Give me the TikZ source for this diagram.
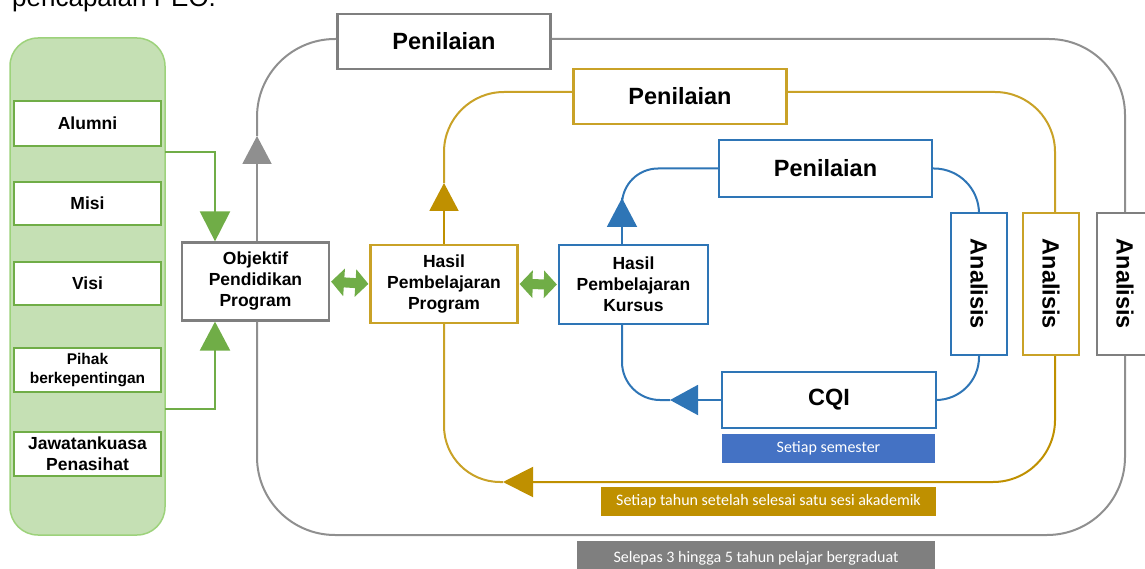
\documentclass[tikz,border=0pt]{standalone}
\usepackage{fontspec}
\setmainfont{Liberation Sans}
\newfontfamily\labfont{Carlito}
\usetikzlibrary{arrows.meta}
\definecolor{grn}{HTML}{70AD47}
\definecolor{pnl}{HTML}{C5E0B4}
\definecolor{pnlb}{HTML}{9DD27B}
\definecolor{gry}{HTML}{8F8F8F}
\definecolor{gryd}{HTML}{7F7F7F}
\definecolor{gold}{HTML}{C9A227}
\definecolor{goldd}{HTML}{BF9000}
\definecolor{blu}{HTML}{2E75B6}
\definecolor{blul}{HTML}{4472C4}
\begin{document}
\begin{tikzpicture}[x=1pt,y=-1pt,
  box/.style={draw, line width=2.2pt, fill=white, inner sep=0pt, align=center,
    font=\bfseries\fontsize{17.5}{21}\selectfont},
  gbox/.style={box, draw=grn, minimum width=147pt},
  bigtxt/.style={font=\bfseries\fontsize{23.5}{26}\selectfont},
  anabox/.style={box, bigtxt, minimum width=56pt, minimum height=142pt},
  lab/.style={inner sep=0pt, text=white, font=\labfont\fontsize{16}{19}\selectfont},
  gline/.style={draw=gry, line width=2pt},
  yline/.style={draw=gold, line width=2pt},
  bline/.style={draw=blu, line width=2pt},
  grline/.style={draw=grn, line width=2.2pt},
  dbl/.style={draw=grn, line width=10pt,
    {Triangle[length=13pt,width=27pt]}-{Triangle[length=13pt,width=27pt]},
    shorten <=1pt, shorten >=1pt}
]
\useasboundingbox (0,0) rectangle (1145,569);

% heading text, cut by the top edge as in the reference
\node[anchor=base west, inner sep=0pt, font=\fontsize{26}{30}\selectfont] (topt) at (12,7) {pencapaian PEO.};

% left panel
\node[draw=pnlb, fill=pnl, line width=1.5pt, rounded corners=28pt,
      minimum width=155pt, minimum height=497pt] (panel) at (87.5,286.5) {};
\node[gbox, minimum height=45pt] (alumni) at (87.5,123.5) {Alumni};
\node[gbox, minimum height=43pt] (misi) at (87.5,203.5) {Misi};
\node[gbox, minimum height=43pt] (visi) at (87.5,283.5) {Visi};
\node[gbox, minimum height=44pt, font=\bfseries\fontsize{15.5}{19}\selectfont] (pihak) at (87.5,370) {Pihak\\berkepentingan};
\node[gbox, minimum height=44pt] (jawatan) at (87.5,454) {Jawatankuasa\\Penasihat};

% main boxes
\node[box, draw=gryd, minimum width=147pt, minimum height=78pt] (obj) at (255.5,281.5) {Objektif\\Pendidikan\\Program};
\node[box, draw=gold, minimum width=147pt, minimum height=78pt] (hpp) at (444,284) {Hasil\\Pembelajaran\\Program};
\node[box, draw=blu, minimum width=149pt, minimum height=79pt] (hpk) at (633.5,284.5) {Hasil\\Pembelajaran\\Kursus};

\node[box, bigtxt, draw=gryd, minimum width=213pt, minimum height=55pt] (penG) at (444,41.5) {Penilaian};
\node[box, bigtxt, draw=gold, minimum width=213pt, minimum height=55pt] (penY) at (680,96.5) {Penilaian};
\node[box, bigtxt, draw=blu, minimum width=213pt, minimum height=57pt] (penB) at (825.5,168.5) {Penilaian};

\node[anabox, draw=blu] (anaB) at (979,284) {\rotatebox{-90}{Analisis}};
\node[anabox, draw=gold] (anaY) at (1051,284) {\rotatebox{-90}{Analisis}};
\node[anabox, draw=gryd] (anaG) at (1125,284) {\rotatebox{-90}{Analisis}};

\node[box, bigtxt, draw=blu, minimum width=214pt, minimum height=56pt] (cqi) at (829,400) {CQI};

% labels
\node[lab, fill=blul, minimum width=213pt, minimum height=29pt] (semL) at (828.5,448) {Setiap semester};
\node[lab, fill=goldd, minimum width=335pt, minimum height=29pt] (thnL) at (768.5,501.5) {Setiap tahun setelah selesai satu sesi akademik};
\node[lab, fill=gryd, minimum width=358pt, minimum height=34pt] (grdL) at (756,558) {Selepas 3 hingga 5 tahun pelajar bergraduat};

% helper coordinates
\coordinate (gS1) at (165,152);
\coordinate (gS2) at (165,409);
\coordinate (gX) at (215,0);
\coordinate (gA) at (257,136);
\coordinate (gT) at (0,39);
\coordinate (gBL) at (257,535);
\coordinate (gR) at (1125,0);
\coordinate (yA) at (444,183);
\coordinate (yT) at (0,92);
\coordinate (yR) at (1055,0);
\coordinate (yC) at (503,482);
\coordinate (bX) at (622,0);
\coordinate (bA) at (622,198);
\coordinate (bC) at (670,400);

% green inputs
\draw[grline, -{Triangle[length=30pt,width=30pt]}] (gS1) -| (obj.north -| gX);
\draw[grline, -{Triangle[length=29pt,width=30pt]}] (gS2) -| (obj.south -| gX);

% double arrows
\draw[dbl] (obj.east) -- (hpp.west);
\draw[dbl] (hpp.east) -- (hpk.west);

% gray loop
\draw[gline, -{Triangle[length=28pt,width=29pt]}] (gA |- obj.north) -- (gA);
\draw[gline, rounded corners=78pt] (gA) |- (penG.west |- gT);
\draw[gline, rounded corners=76pt] (penG.east |- gT) -| (anaG.north -| gR);
\draw[gline, rounded corners=78pt] (anaG.south -| gR) |- (gBL) -- (gA |- obj.south);

% gold loop
\draw[yline, draw=goldd, -{Triangle[length=28pt,width=29pt]}] (hpp.north) -- (yA);
\draw[yline, rounded corners=60pt] (yA) |- (penY.west |- yT);
\draw[yline, rounded corners=60pt] (penY.east |- yT) -| (anaY.north -| yR);
\draw[yline, draw=goldd, rounded corners=62pt, -{Triangle[length=30pt,width=30pt]}] (anaY.south -| yR) |- (yC);
\draw[yline, rounded corners=56pt] (yC) -| (hpp.south);

% blue loop
\draw[bline, -{Triangle[length=29pt,width=30pt]}] (hpk.north -| bX) -- (bA);
\draw[bline, rounded corners=36pt] (bA) |- (penB.west);
\draw[bline, rounded corners=45pt] (penB.east) -| (anaB.north);
\draw[bline, rounded corners=43pt] (anaB.south) |- (cqi.east);
\draw[bline, -{Triangle[length=28pt,width=30pt]}] (cqi.west) -- (bC);
\draw[bline, rounded corners=38pt] (bC) -| (hpk.south -| bX);
\end{tikzpicture}
\end{document}
